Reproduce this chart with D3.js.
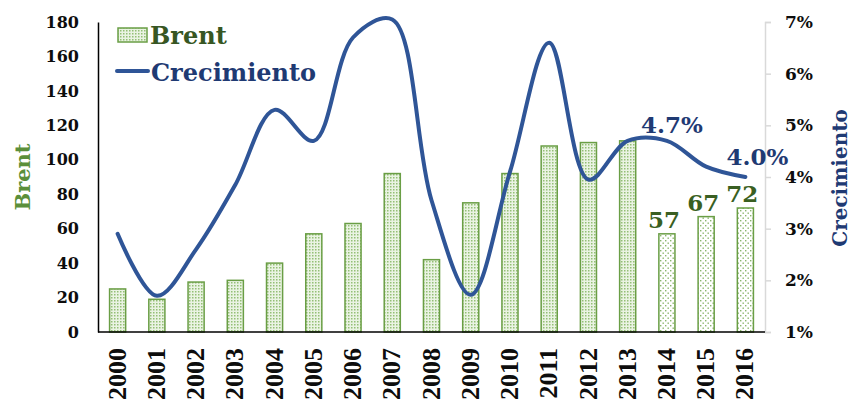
<!DOCTYPE html>
<html><head><meta charset="utf-8">
<script src="https://cdn.jsdelivr.net/npm/d3@7"></script>
<style>body{margin:0;background:#fff}svg{display:block}</style>
</head><body>
<script>
const years = ["2000","2001","2002","2003","2004","2005","2006","2007","2008","2009","2010","2011","2012","2013","2014","2015","2016"];
const brent = [25, 19, 29, 30, 40, 57, 63, 92, 42, 75, 92, 108, 110, 111, 57, 67, 72];
const growth = [2.9, 1.7, 2.6, 3.85, 5.3, 4.7, 6.7, 7.05, 3.55, 1.72, 4.1, 6.6, 3.95, 4.7, 4.7, 4.2, 4.0];
const leftTicks = [0, 20, 40, 60, 80, 100, 120, 140, 160, 180];
const rightTicks = [1, 2, 3, 4, 5, 6, 7];
const forecastFrom = 14; // 2014 onward drawn with sparse pattern
const barLabels = [{i:14, text:"57"}, {i:15, text:"67"}, {i:16, text:"72"}];
const lineLabels = [{i:14, text:"4.7%"}, {i:16, text:"4.0%"}];

const W = 851, H = 402;
const m = {l:98, r:86, t:22, b:70};
const svg = d3.select("body").append("svg").attr("width", W).attr("height", H);
const defs = svg.append("defs");
const pd = defs.append("pattern").attr("id","dense").attr("patternUnits","userSpaceOnUse").attr("width",3).attr("height",3);
pd.append("rect").attr("width",3).attr("height",3).attr("fill","#eaf3e3");
pd.append("rect").attr("x",0).attr("y",0).attr("width",1.5).attr("height",1.5).attr("fill","#94bf76");
const ps = defs.append("pattern").attr("id","sparse").attr("patternUnits","userSpaceOnUse").attr("width",5).attr("height",5);
ps.append("rect").attr("width",5).attr("height",5).attr("fill","#ffffff");
ps.append("rect").attr("x",0).attr("y",0).attr("width",1.4).attr("height",1.4).attr("fill","#8ab56c");
ps.append("rect").attr("x",2.5).attr("y",2.5).attr("width",1.4).attr("height",1.4).attr("fill","#8ab56c");

const x = d3.scaleBand().domain(years).range([m.l, W - m.r]).paddingInner(0.59).paddingOuter(0.295);
const y = d3.scaleLinear().domain([0, 180]).range([H - m.b, m.t]);
const y2 = d3.scaleLinear().domain([1, 7]).range([H - m.b, m.t]);

const serif = "'DejaVu Serif', serif";

// right axis (gray)
const ra = svg.append("g").attr("transform", `translate(${W - m.r},0)`)
  .call(d3.axisRight(y2).tickValues(rightTicks).tickFormat(d => d + "%").tickSize(6).tickPadding(14));
ra.select(".domain").attr("stroke", "#d9d9d9").attr("stroke-width", 1.5);
ra.selectAll(".tick line").attr("stroke", "#d9d9d9").attr("stroke-width", 1.5);
ra.selectAll("text").attr("font-family", serif).attr("font-weight", "bold").attr("font-size", 17).attr("fill", "#0d0d0d");

// bars
svg.append("g").selectAll("rect").data(brent).join("rect")
  .attr("x", (d, i) => x(years[i]))
  .attr("y", d => y(d))
  .attr("width", x.bandwidth())
  .attr("height", d => y(0) - y(d))
  .attr("fill", (d, i) => i >= forecastFrom ? "url(#sparse)" : "url(#dense)")
  .attr("stroke", "#6a9e45").attr("stroke-width", 1.5);

// left axis
const la = svg.append("g").attr("transform", `translate(${m.l},0)`)
  .call(d3.axisLeft(y).tickValues(leftTicks).tickSize(0).tickPadding(19));
la.select(".domain").attr("stroke", "#000").attr("stroke-width", 1.5);
la.selectAll("text").attr("font-family", serif).attr("font-weight", "bold").attr("font-size", 16).attr("fill", "#0d0d0d");

// bottom axis
const ba = svg.append("g").attr("transform", `translate(0,${H - m.b})`)
  .call(d3.axisBottom(x).tickSize(0).tickPadding(0));
ba.select(".domain").attr("stroke", "#000").attr("stroke-width", 1.5).attr("d", `M${m.l},0H${W - m.r}`);
ba.selectAll("text")
  .attr("font-family", "'Liberation Serif', serif").attr("font-weight", "bold").attr("font-size", 26).attr("fill", "#0d0d0d")
  .attr("text-anchor", "end").attr("dy", "0.35em")
  .attr("transform", "translate(-1,16) rotate(-90)").attr("x", 0).attr("y", 0);

// line
const line = d3.line().x((d, i) => x(years[i]) + x.bandwidth() / 2).y(d => y2(d)).curve(d3.curveCatmullRom.alpha(0.5));
svg.append("path").datum(growth).attr("d", line).attr("fill", "none").attr("stroke", "#2f5597").attr("stroke-width", 4).attr("stroke-linecap", "round");

// labels
svg.append("g").selectAll("text").data(barLabels).join("text")
  .attr("x", d => x(years[d.i]) + x.bandwidth() / 2 - 3)
  .attr("y", d => y(brent[d.i]) - 6)
  .attr("text-anchor", "middle").attr("font-family", serif).attr("font-weight", "bold").attr("font-size", 23).attr("fill", "#3a5f22")
  .text(d => d.text);
svg.append("g").selectAll("text").data(lineLabels).join("text")
  .attr("x", (d, k) => x(years[d.i]) + x.bandwidth() / 2 + (k ? 12 : 5))
  .attr("y", (d, k) => y2(growth[d.i]) - (k ? 12 : 8))
  .attr("text-anchor", "middle").attr("font-family", serif).attr("font-weight", "bold").attr("font-size", 23).attr("fill", "#1f3a73")
  .text(d => d.text);

// axis titles
svg.append("text").attr("transform", "translate(30,177) rotate(-90)").attr("text-anchor", "middle")
  .attr("font-family", serif).attr("font-weight", "bold").attr("font-size", 21).attr("fill", "#5b8f3a").text("Brent");
svg.append("text").attr("transform", "translate(847,178) rotate(-90)").attr("text-anchor", "middle")
  .attr("font-family", serif).attr("font-weight", "bold").attr("font-size", 20).attr("fill", "#1f3a73").text("Crecimiento");

// legend
const lg = svg.append("g");
lg.append("rect").attr("x", 118).attr("y", 28).attr("width", 29).attr("height", 14).attr("fill", "url(#dense)").attr("stroke", "#6a9e45").attr("stroke-width", 1.5);
lg.append("text").attr("x", 150).attr("y", 44).attr("font-family", serif).attr("font-weight", "bold").attr("font-size", 24).attr("fill", "#375623").text("Brent");
lg.append("line").attr("x1", 117).attr("x2", 148).attr("y1", 71).attr("y2", 71).attr("stroke", "#2f5597").attr("stroke-width", 4).attr("stroke-linecap", "round");
lg.append("text").attr("x", 151).attr("y", 81).attr("font-family", serif).attr("font-weight", "bold").attr("font-size", 24).attr("fill", "#1f3a73").text("Crecimiento");
</script>
</body></html>
